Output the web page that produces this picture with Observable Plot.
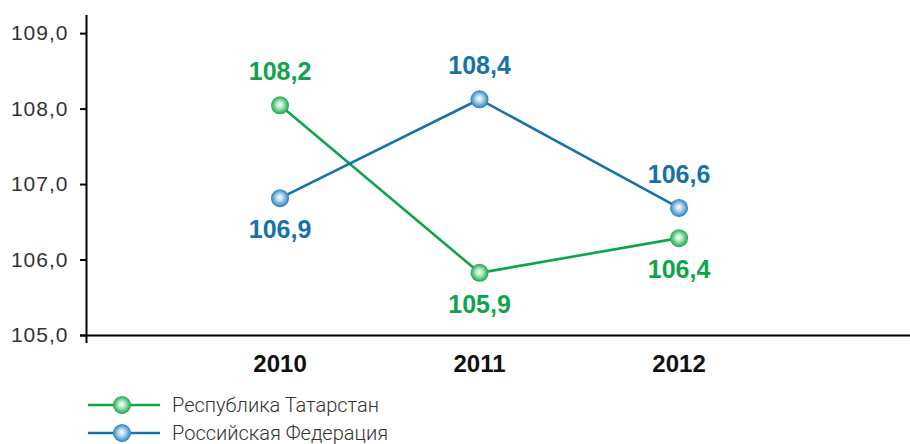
<!DOCTYPE html>
<html><head><meta charset="utf-8">
<script src="https://cdn.jsdelivr.net/npm/d3@7"></script>
<script src="https://cdn.jsdelivr.net/npm/@observablehq/plot@0.6"></script>
<style>
body{margin:0;background:#fff;font-family:"Liberation Sans",Arial,sans-serif;}
#legend{margin-left:88px;margin-top:16px;}
.row{display:flex;align-items:center;height:28px;}
.row span{font-family:"Roboto",sans-serif;font-weight:300;font-size:20px;color:#333;margin-left:12px;}
</style></head>
<body><div id="chart"></div><div id="legend"></div>
<script>
const years = [2010, 2011, 2012];
const seriesNames = ["Республика Татарстан", "Российская Федерация"];
const tatarstan = [108.05, 105.83, 106.29];
const russia = [106.82, 108.13, 106.69];
const tatarstanLabels = ["108,2", "105,9", "106,4"];
const russiaLabels = ["106,9", "108,4", "106,6"];
const tatarstanAbove = [true, false, false];
const russiaAbove = [false, true, true];
const yTicks = [105, 106, 107, 108, 109];
const colors = ["#0ea44b", "#1672aa"];

const data = [];
years.forEach((yr, i) => {
  data.push({year: yr, value: tatarstan[i], label: tatarstanLabels[i], above: tatarstanAbove[i], s: 0});
  data.push({year: yr, value: russia[i], label: russiaLabels[i], above: russiaAbove[i], s: 1});
});
const fmt = d => d.toFixed(1).replace(".", ",");

const plot = Plot.plot({
  width: 910, height: 375,
  marginTop: 15, marginBottom: 40, marginLeft: 86, marginRight: 0,
  style: {fontFamily: "'Liberation Sans', Arial, sans-serif", overflow: "visible"},
  x: {domain: [2009.03, 2013.16], label: null},
  y: {domain: [105, 109.24], label: null},
  marks: [
    Plot.axisY({ticks: yTicks, tickFormat: fmt, tickSize: 6, tickPadding: 12, fontSize: 21, stroke: "#000", strokeWidth: 2, color: "#333", label: null}),
    Plot.axisX({ticks: years, tickFormat: d => String(d), tickSize: 0, tickPadding: 19, fontSize: 24, fontWeight: "bold", color: "#111", label: null}),
    Plot.ruleY([105], {stroke: "#000", strokeWidth: 2, x1: 2009.03, x2: 2013.16, insetLeft: -6}),
    Plot.ruleX([2009.03], {stroke: "#000", strokeWidth: 2, insetBottom: -8}),
    Plot.line(data.filter(d => d.s === 0), {x: "year", y: "value", stroke: colors[0], strokeWidth: 2.6}),
    Plot.line(data.filter(d => d.s === 1), {x: "year", y: "value", stroke: colors[1], strokeWidth: 2.6}),
    Plot.dot(data.filter(d => d.s === 0), {x: "year", y: "value", r: 9, fill: "url(#gG)", stroke: "none"}),
    Plot.dot(data.filter(d => d.s === 1), {x: "year", y: "value", r: 9, fill: "url(#gB)", stroke: "none"}),
    Plot.text(data.filter(d => d.above && d.s === 0), {x: "year", y: "value", text: "label", dy: -33, fill: colors[0], fontSize: 25, fontWeight: "bold"}),
    Plot.text(data.filter(d => d.above && d.s === 1), {x: "year", y: "value", text: "label", dy: -33, fill: colors[1], fontSize: 25, fontWeight: "bold"}),
    Plot.text(data.filter(d => !d.above && d.s === 0), {x: "year", y: "value", text: "label", dy: 32, fill: colors[0], fontSize: 25, fontWeight: "bold"}),
    Plot.text(data.filter(d => !d.above && d.s === 1), {x: "year", y: "value", text: "label", dy: 32, fill: colors[1], fontSize: 25, fontWeight: "bold"})
  ]
});
document.getElementById("chart").appendChild(plot);

const svg = d3.select(plot);
const defs = svg.insert("defs", ":first-child");
function grad(sel, id, stops) {
  const g = sel.append("radialGradient").attr("id", id).attr("cx", "50%").attr("cy", "50%").attr("r", "55%").attr("fx", "48%").attr("fy", "45%");
  g.append("stop").attr("offset", "0%").attr("stop-color", "#ffffff");
  g.append("stop").attr("offset", "35%").attr("stop-color", stops[0]);
  g.append("stop").attr("offset", "75%").attr("stop-color", stops[1]);
  g.append("stop").attr("offset", "100%").attr("stop-color", stops[2]);
}
const stopsG = ["#b6e6c4", "#3dbb6a", "#12924a"];
const stopsB = ["#b7d8ee", "#4c9ccd", "#17679d"];
grad(defs, "gG", stopsG);
grad(defs, "gB", stopsB);
svg.selectAll("[aria-label='y-axis tick label'] text").style("letter-spacing", "1px");

const legend = d3.select("#legend");
seriesNames.forEach((name, i) => {
  const row = legend.append("div").attr("class", "row");
  const s = row.append("svg").attr("width", 72).attr("height", 24);
  grad(s.append("defs"), "lg" + i, i === 0 ? stopsG : stopsB);
  s.append("line").attr("x1", 0).attr("x2", 72).attr("y1", 12).attr("y2", 12).attr("stroke", colors[i]).attr("stroke-width", 2.6);
  s.append("circle").attr("cx", 34).attr("cy", 12).attr("r", 9).attr("fill", "url(#lg" + i + ")");
  row.append("span").text(name);
});
</script></body></html>
